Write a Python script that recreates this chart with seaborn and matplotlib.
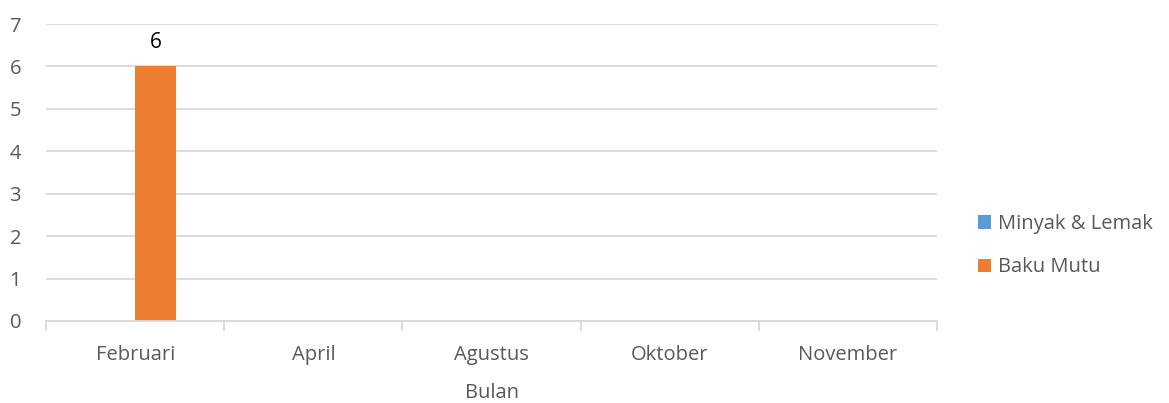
import pandas as pd
import matplotlib
matplotlib.use("Agg")
import matplotlib.pyplot as plt
import seaborn as sns

bulan = ["Februari", "April", "Agustus", "Oktober", "November"]
minyak_lemak = [0, 0, 0, 0, 0]
baku_mutu = [6, 0, 0, 0, 0]
series = ["Minyak & Lemak", "Baku Mutu"]
colors = ["#5b9bd5", "#ed7d31"]

df = pd.DataFrame({
    "Bulan": bulan * 2,
    "Nilai": minyak_lemak + baku_mutu,
    "Seri": [series[0]] * len(bulan) + [series[1]] * len(bulan),
})

sns.set_style("white")
plt.rcParams["font.family"] = ["Open Sans", "DejaVu Sans"]
grey = "#595959"
line = "#d9d9d9"
fs = 14.5

fig = plt.figure(figsize=(11.69, 4.03), dpi=100)
ax = fig.add_axes([0.0394, 0.2035, 0.7622, 0.7369])

sns.barplot(data=df, x="Bulan", y="Nilai", hue="Seri", palette=colors,
            width=0.46, gap=0, saturation=1, linewidth=0, ax=ax, legend=True)

ax.set_ylim(0, 7)
ax.set_yticks(range(0, 8))
ax.set_xlim(-0.5, len(bulan) - 0.5)
ax.yaxis.grid(True, color=line, linewidth=1.3)
ax.set_axisbelow(True)
for s in ["top", "right", "left"]:
    ax.spines[s].set_visible(False)
ax.spines["bottom"].set_color(line)
ax.spines["bottom"].set_linewidth(1.3)

ax.set_xticks([i - 0.5 for i in range(len(bulan) + 1)], minor=True)
ax.tick_params(axis="x", which="minor", bottom=True, length=7, color=line, width=1.3)
ax.tick_params(axis="x", which="major", length=0, pad=17, labelsize=fs, labelcolor=grey)
ax.tick_params(axis="y", left=False, length=0, pad=18, labelsize=fs, labelcolor=grey)

ax.set_xlabel("Bulan", fontsize=fs, color=grey, labelpad=13)
ax.set_ylabel("")

cont = ax.containers[1]
ax.bar_label(cont, labels=[f"{v:g}" if v else "" for v in baku_mutu],
             padding=10, fontsize=15, color="black")

handles, labels = ax.get_legend_handles_labels()
ax.legend(handles, labels, loc="center left", bbox_to_anchor=(1.046, 0.253),
          frameon=False, fontsize=fs, labelcolor=grey, handlelength=0.65,
          handleheight=0.65, handletextpad=0.35, labelspacing=1.15,
          borderaxespad=0, borderpad=0)

fig.savefig("out.png", dpi=100)
